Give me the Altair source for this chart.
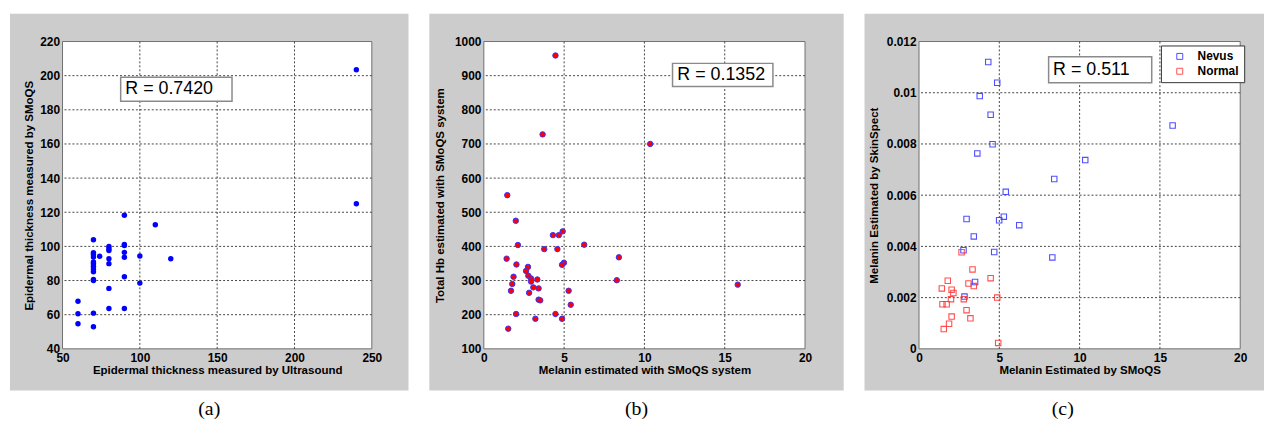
import altair as alt
import pandas as pd

# ---------------- data ----------------
# (a) epidermal thickness
a_x = [240, 240, 90, 110,
       70, 70, 70, 70, 70, 70, 70, 70, 70, 70, 70, 70, 70,
       60, 60, 60,
       80, 80, 80, 80, 80, 80, 80,
       90, 90, 90, 90, 90, 90,
       100, 100, 74, 120]
a_y = [203.5, 125, 118.2, 112.7,
       103.9, 96.3, 95.2, 93.8, 90.9, 89.9, 88.4, 86.8, 85.1, 80.6, 80.0, 60.9, 52.9,
       67.9, 60.5, 54.7,
       100.0, 98.6, 97.6, 92.8, 89.9, 75.4, 63.6,
       101.1, 100.5, 96.5, 93.6, 82.2, 63.6,
       94.4, 78.5, 94.2, 92.8]

# (b) melanin vs total Hb
b_x = [4.46, 3.66, 10.36, 1.46, 1.99, 4.30, 4.67, 4.91, 2.12, 6.25,
       3.76, 4.58, 1.42, 8.41, 2.03, 2.75, 4.99, 4.87, 2.63, 2.77,
       1.85, 2.94, 3.33, 8.28, 2.94, 1.77, 1.69, 3.41, 3.08, 2.82,
       5.28, 15.81, 3.41, 3.51, 5.41, 2.01, 4.46, 3.21, 4.87, 1.52]
b_y = [959, 728, 700, 550, 475, 433, 433, 444, 404, 405,
       392, 392, 364, 368, 347, 340, 352, 346, 328, 314,
       311, 306, 303, 301, 297, 290, 270, 277, 280, 264,
       270, 288, 244, 242, 229, 202, 202, 188, 188, 159]

# (c) melanin SMoQS vs SkinSpect
nevus_x = [4.31, 4.87, 3.78, 4.46, 4.58, 3.63, 15.79, 10.35, 8.42, 5.40,
           5.28, 4.99, 2.96, 6.24, 3.41, 2.77, 4.68, 8.30, 3.49, 2.83]
nevus_y = [0.0112, 0.01039, 0.00987, 0.00914, 0.00799, 0.00763, 0.00872, 0.00737, 0.00663, 0.00613,
           0.00516, 0.00502, 0.00507, 0.00483, 0.00439, 0.00385, 0.00378, 0.00357, 0.00261, 0.00204]
normal_x = [2.65, 3.33, 1.79, 4.46, 3.08, 3.41, 1.42, 2.03, 2.14, 4.87,
            2.79, 1.99, 1.46, 1.72, 2.96, 2.03, 3.20, 1.87, 1.54, 4.93]
normal_y = [0.00377, 0.0031, 0.00266, 0.00276, 0.00255, 0.00245, 0.00236, 0.00231, 0.00218, 0.0020,
            0.00194, 0.00194, 0.00174, 0.00174, 0.00151, 0.00126, 0.00119, 0.00098, 0.00077, 0.00023]
groups = ["Nevus", "Normal"]

# axis ticks
a_xticks = [50, 100, 150, 200, 250]
a_yticks = [40, 60, 80, 100, 120, 140, 160, 180, 200, 220]
b_xticks = [0, 5, 10, 15, 20]
b_yticks = [100, 200, 300, 400, 500, 600, 700, 800, 900, 1000]
c_xticks = [0, 5, 10, 15, 20]
c_yticks = [0, 0.002, 0.004, 0.006, 0.008, 0.010, 0.012]

r_texts = ["R = 0.7420", "R = 0.1352", "R = 0.511"]
panel_labels = ["(a)", "(b)", "(c)"]

FONT = "Liberation Sans"
GRAY = "#cccccc"
GRID = "#444444"

AX_STYLE = dict(zindex=1, labelFont=FONT, labelFontSize=12, labelFontWeight="bold",
                labelColor="black", titleFont=FONT, titleFontSize=11.6,
                titleFontWeight="bold", titleColor="black")


def one_row():
    return alt.Data(values=[{"k": 0}])


def panel(df, xdom, ydom, xticks, yticks, w, h, xtitle, ytitle, ytitle_x,
          bg, box, rtext, label, label_x, point_layer_fn):
    xs = alt.Scale(domain=xdom, nice=False, zero=False)
    ys = alt.Scale(domain=ydom, nice=False, zero=False)
    xax = alt.Axis(values=xticks, title=xtitle, grid=False, domain=False, ticks=False,
                   tickSize=0, labelPadding=4, labelFlush=False, labelOverlap=False,
                   format="~r", titleX=w / 2, titleY=22, titleBaseline="middle",
                   titleAlign="center", **AX_STYLE)
    yax = alt.Axis(values=yticks, title=ytitle, grid=False, domain=False, ticks=False,
                   tickSize=0, labelPadding=3, labelFlush=False, labelOverlap=False,
                   format="~r", titleX=ytitle_x, titleY=h / 2, titleBaseline="middle",
                   titleAlign="center", titleAngle=270, **AX_STYLE)
    X = lambda f: alt.X(f, scale=xs, axis=xax)
    Y = lambda f: alt.Y(f, scale=ys, axis=yax)

    bg_l = alt.Chart(one_row()).mark_rect(fill=GRAY, strokeWidth=0).encode(
        x=alt.value(bg[0]), x2=alt.value(bg[1]), y=alt.value(bg[2]), y2=alt.value(bg[3]))
    frame = alt.Chart(one_row()).mark_rect(fill="white", stroke="#6f6f6f", strokeWidth=1).encode(
        x=alt.value(0), x2=alt.value(w), y=alt.value(0), y2=alt.value(h))
    gx = alt.Chart(pd.DataFrame({"x": xticks[1:-1]})).mark_rule(
        color=GRID, strokeDash=[2, 2], strokeWidth=1).encode(x=X("x:Q"))
    gy = alt.Chart(pd.DataFrame({"y": yticks[1:-1]})).mark_rule(
        color=GRID, strokeDash=[2, 2], strokeWidth=1).encode(y=Y("y:Q"))
    bx = alt.Chart(pd.DataFrame([box])).mark_rect(
        fill="white", stroke="#8a8a8a", strokeWidth=1.5).encode(
        x=X("x0:Q"), x2="x1:Q", y=Y("y0:Q"), y2="y1:Q")
    tx = alt.Chart(pd.DataFrame([{"x": box["tx"], "y": (box["y0"] + box["y1"]) / 2, "t": rtext}])).mark_text(
        align="left", baseline="middle", font=FONT, fontSize=18, color="black").encode(
        x=X("x:Q"), y=Y("y:Q"), text="t:N")
    pts = point_layer_fn(alt.Chart(df), X, Y)
    lab = alt.Chart(one_row()).mark_text(
        font="Liberation Serif", fontSize=20, align="center", baseline="middle", color="black").encode(
        x=alt.value(label_x), y=alt.value(h + 22 + 39), text=alt.value(label))
    return alt.layer(bg_l, frame, gx, gy, bx, tx, pts, lab).properties(width=w, height=h)


# ---- panel a ----
df_a = pd.DataFrame({"x": a_x, "y": a_y})
pa = panel(df_a, [50, 250], [40, 220], a_xticks, a_yticks, 312, 310,
           "Epidermal thickness measured by Ultrasound",
           "Epidermal thickness measured by SMoQS", -33,
           (-53, 349, -28, 352),
           {"x0": 87.6, "x1": 159.6, "y0": 185.0, "y1": 199.1, "tx": 90.6},
           r_texts[0], panel_labels[0], 148,
           lambda c, X, Y: c.mark_circle(size=30, color="#0000ff", opacity=1).encode(
               x=X("x:Q"), y=Y("y:Q")))

# ---- panel b ----
df_b = pd.DataFrame({"x": b_x, "y": b_y})
pb = panel(df_b, [0, 20], [100, 1000], b_xticks, b_yticks, 324, 310,
           "Melanin estimated with SMoQS system",
           "Total Hb  estimated with SMoQS system", -44,
           (-55, 363, -28, 352),
           {"x0": 11.75, "x1": 18.0, "y0": 868.5, "y1": 936.0, "tx": 12.05},
           r_texts[1], panel_labels[1], 154,
           lambda c, X, Y: c.mark_circle(size=30, fill="#ff0000", stroke="#3333ff",
                                         strokeWidth=1, opacity=1).encode(
               x=X("x:Q"), y=Y("y:Q")))

# ---- panel c ----
df_c = pd.DataFrame({
    "x": nevus_x + normal_x,
    "y": nevus_y + normal_y,
    "g": [groups[0]] * len(nevus_x) + [groups[1]] * len(normal_x),
})
leg = alt.Legend(orient="none", legendX=244, legendY=4, title=None,
                 fillColor="white", strokeColor="#333333", padding=5,
                 symbolType="square", symbolSize=36, symbolStrokeWidth=1,
                 symbolOffset=8, labelOffset=12, rowPadding=3,
                 labelFont=FONT, labelFontSize=12, labelFontWeight="bold",
                 labelColor="black")
pc = panel(df_c, [0, 20], [0, 0.012], c_xticks, c_yticks, 324, 310,
           "Melanin Estimated by SMoQS",
           "Melanin Estimated by SkinSpect", -45,
           (-55, 348, -28, 352),
           {"x0": 8.07, "x1": 14.49, "y0": 0.010386, "y1": 0.011408, "tx": 8.35},
           r_texts[2], panel_labels[2], 145,
           lambda c, X, Y: c.mark_point(shape="square", filled=False, size=30,
                                        strokeWidth=1.1, opacity=0.85).encode(
               x=X("x:Q"), y=Y("y:Q"),
               color=alt.Color("g:N", scale=alt.Scale(domain=groups, range=["#3232ff", "#ff3232"]),
                               legend=leg)))

chart = alt.hconcat(pa, pb, pc, spacing=19).resolve_scale(
    color="independent").resolve_legend(color="independent").properties(
    padding={"left": 1, "top": 3, "right": 0, "bottom": 0}
).configure_view(stroke="transparent")

chart.save("out.html", embed_options={"renderer": "svg", "actions": False})
